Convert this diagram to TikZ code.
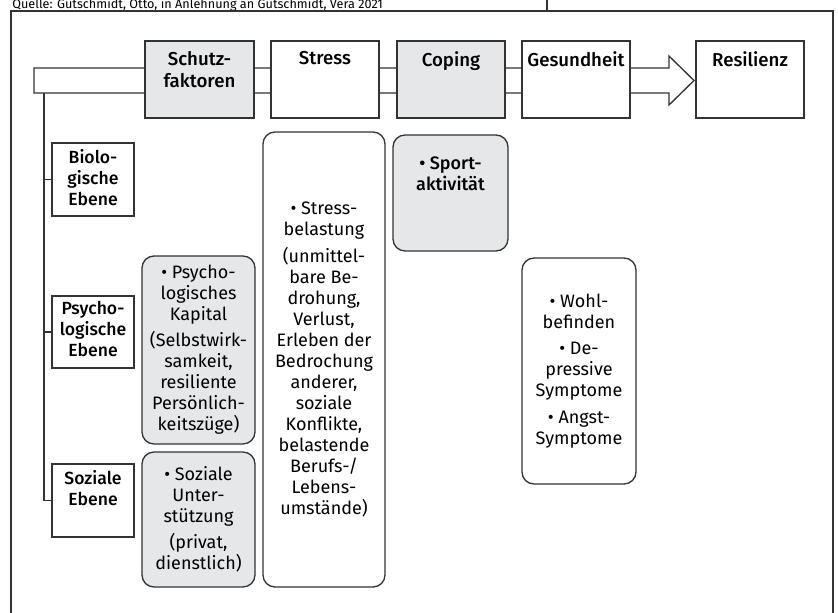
\documentclass[tikz,border=0pt]{standalone}
\usepackage{fontspec}
\setmainfont{Fira Sans}
\newfontfamily\medfont{Fira Sans Medium}
\usetikzlibrary{positioning}
\definecolor{boxgrey}{HTML}{E6E7E9}
\definecolor{ink}{HTML}{333333}

\tikzset{
  sz/.style 2 args={minimum width=#1*0.75pt, minimum height=#2*0.75pt},
  inkline/.style={draw=ink, line width=1pt},
  headbox/.style={inkline, rectangle, inner sep=0pt, fill=white},
  softbox/.style={inkline, rounded corners=9pt, inner sep=0pt, align=center,
    fill=white, font=\fontsize{13.5}{15.75}\selectfont},
  headtext/.style={anchor=north, inner sep=0pt, align=center,
    font=\medfont\fontsize{14}{16.5}\selectfont},
  leveltext/.style={headtext, font=\medfont\fontsize{13.2}{15.75}\selectfont},
}

\begin{document}
\begin{tikzpicture}[x=0.75pt,y=-0.75pt]
\useasboundingbox (0,0) rectangle (838,612);

% source line above the frame
\node[anchor=base west, inner sep=0pt, font=\fontsize{9.5}{11}\selectfont] (src) at (12,8.5)
  {Quelle: Gutschmidt, Otto, in Anlehnung an Gutschmidt, Vera 2021};
\draw[inkline] (547,-2) -- (547,11);
\draw[inkline] (11,620) -- (11,11) -- (833,11) -- (833,620);

% broad arrow behind the head boxes
\draw[inkline, fill=white] (34,68) -- (669,68) -- (669,56) -- (694,80.5)
  -- (669,105) -- (669,93) -- (34,93) -- cycle;
\coordinate (root) at (44,93);

% head row
\node[headbox, sz={109}{77}, fill=boxgrey] (schutz) at (199.5,79.5) {};
\node[headbox, sz={108}{77}] (stress) at (325,79.5) {};
\node[headbox, sz={108}{77}, fill=boxgrey] (coping) at (451,79.5) {};
\node[headbox, sz={108}{77}] (gesund) at (576,79.5) {};
\node[headbox, sz={108}{77}] (resil) at (750,79.5) {};
\node[headtext] (schutz-t) at ([yshift=-8pt]schutz.north) {Schutz-\\faktoren};
\node[headtext] (stress-t) at ([yshift=-8pt]stress.north) {Stress};
\node[headtext] (coping-t) at ([yshift=-8pt]coping.north) {Coping};
\node[headtext] (gesund-t) at ([yshift=-8pt]gesund.north) {Gesundheit};
\node[headtext] (resil-t) at ([yshift=-8pt]resil.north) {Resilienz};

% levels
\node[headbox, sz={82}{73}] (bio) at (93,179.5) {};
\node[headbox, sz={82}{72}] (psy) at (93,332) {};
\node[headbox, sz={82}{73}] (soz) at (93,500.5) {};
\node[leveltext] (bio-t) at ([yshift=-5.5pt]bio.north) {Biolo-\\gische\\Ebene};
\node[leveltext] (psy-t) at ([yshift=-4pt]psy.north) {Psycho-\\logische\\Ebene};
\node[leveltext] (soz-t) at ([yshift=-5.5pt]soz.north) {Soziale\\Ebene};
\draw[inkline] (root) |- (soz.west);
\draw[inkline] (bio.west) -- (bio.west -| root);
\draw[inkline] (psy.west) -- (psy.west -| root);

% contents
\node[softbox, sz={113}{188}, fill=boxgrey] (kapital) at (198.5,350)
  {\textbullet\ Psycho-\\logisches\\Kapital\\[4pt](Selbstwirk-\\samkeit,\\resiliente\\Persönlich-\\keitszüge)};
\node[softbox, sz={113}{135}, fill=boxgrey] (sozunt) at (198.5,519.5)
  {\textbullet\ Soziale\\Unter-\\stützung\\[4pt](privat,\\dienstlich)};
\node[softbox, sz={122}{455}] (belast) at (324,359.5)
  {\textbullet\ Stress-\\belastung\\[4pt](unmittel-\\bare Be-\\drohung,\\Verlust,\\Erleben der\\Bedrochung\\anderer,\\soziale\\Konflikte,\\belastende\\Berufs-/\\Lebens-\\umstände)};
\node[softbox, sz={115}{116}, fill=boxgrey, font=\medfont\fontsize{13.5}{15.75}\selectfont] (sport) at (450.5,193)
  {\textbullet\ Sport-\\aktivität\\[14pt]};
\node[softbox, sz={114}{226}] (wohl) at (579,371)
  {\textbullet\ Wohl-\\befinden\\[4pt]\textbullet\ De-\\pressive\\Symptome\\[4pt]\textbullet\ Angst-\\Symptome};
\end{tikzpicture}
\end{document}
